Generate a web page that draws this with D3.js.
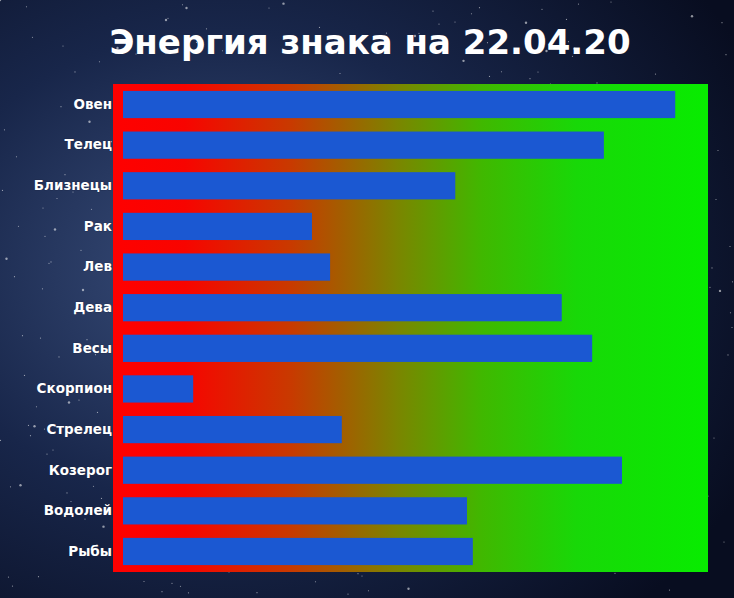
<!DOCTYPE html>
<html><head><meta charset="utf-8">
<script src="https://cdn.jsdelivr.net/npm/d3@7"></script>
<style>body{margin:0;background:#0b1430}</style></head>
<body><svg id="c" width="734" height="598"></svg>
<script>
const categories = ["Овен","Телец","Близнецы","Рак","Лев","Дева","Весы","Скорпион","Стрелец","Козерог","Водолей","Рыбы"];
const values = [94.4,82.2,56.8,32.3,35.4,75.0,80.2,12.0,37.4,85.3,58.8,59.8];
const title = "Энергия знака на 22.04.20";

const svg = d3.select("#c");
const defs = svg.append("defs");
const bg = defs.append("radialGradient").attr("id","bg").attr("cx","30%").attr("cy","45%").attr("r","80%");
bg.append("stop").attr("offset","0%").attr("stop-color","#3a4f7c");
bg.append("stop").attr("offset","50%").attr("stop-color","#18264a");
bg.append("stop").attr("offset","100%").attr("stop-color","#080d20");
svg.append("rect").attr("width",734).attr("height",598).attr("fill","url(#bg)");
const stars = d3.range(400).map(i=>[(i*137.5)%734, (i*89.3+i*i*0.37)%598, (i%7===0)?1.2:0.6]);
svg.append("g").selectAll("circle").data(stars).join("circle")
  .attr("cx",d=>d[0]).attr("cy",d=>d[1]).attr("r",d=>d[2]).attr("fill","#fff").attr("opacity",0.55);

const L=113,R=708,T=84,B=572;
const g = defs.append("linearGradient").attr("id","pg");
[["0%","#ff0000"],["12%","#f80400"],["30%","#c83a00"],["48%","#7a8600"],["62%","#40b800"],["78%","#18d808"],["100%","#08ec00"]]
 .forEach(s=>g.append("stop").attr("offset",s[0]).attr("stop-color",s[1]));
svg.append("rect").attr("x",L).attr("y",T).attr("width",R-L).attr("height",B-T).attr("fill","url(#pg)");

const x = d3.scaleLinear().domain([0,100]).range([123,R]);
const y = d3.scaleBand().domain(categories).range([T,B]).paddingInner(0.33).paddingOuter(0.17);
svg.append("g").selectAll("rect").data(categories).join("rect")
  .attr("x",x(0)).attr("y",d=>y(d)).attr("height",y.bandwidth())
  .attr("width",(d,i)=>x(values[i])-x(0)).attr("fill","#1b58d2");

const ax = svg.append("g").attr("transform",`translate(${L},0)`).call(d3.axisLeft(y).tickSize(0).tickPadding(1));
ax.select(".domain").remove();
ax.selectAll("text").attr("fill","#fff").style("font-family","'DejaVu Sans', sans-serif")
  .style("font-weight","bold").style("font-size","13.5px")
  .attr("stroke","#1a2240").attr("stroke-width",0.6).attr("paint-order","stroke");

svg.append("text").attr("x",370).attr("y",54).attr("text-anchor","middle").attr("fill","#fff")
  .style("font-family","'DejaVu Sans', sans-serif").style("font-weight","bold").style("font-size","34px").text(title);
</script></body></html>
